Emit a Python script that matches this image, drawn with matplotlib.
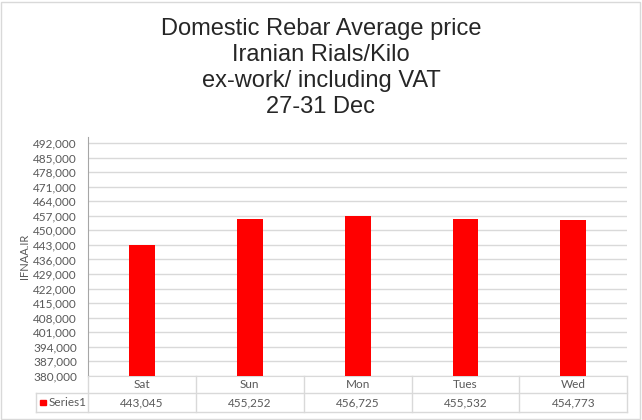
import matplotlib
matplotlib.use("Agg")
import matplotlib.pyplot as plt
import matplotlib.transforms as mtransforms
from matplotlib.patches import Rectangle

days = ["Sat", "Sun", "Mon", "Tues", "Wed"]
prices = [443045, 455252, 456725, 455532, 454773]
series_name = "Series1"
y_ticks = list(range(380000, 492001, 7000))

TITLE = "Domestic Rebar Average price\nIranian Rials/Kilo\nex-work/ including VAT\n27-31 Dec"
TEXT = "#595959"
GRID = "#d9d9d9"
BAR = "#ff0000"
LABEL_FONT = ["Lato", "DejaVu Sans"]

fig = plt.figure(figsize=(6.42, 4.2), dpi=100)
fig.patch.set_facecolor("white")
fig.patches.append(Rectangle((0.002, 0.003), 0.995, 0.993, transform=fig.transFigure,
                             fill=False, edgecolor=GRID, linewidth=1.0))

ax = fig.add_axes([0.137, 0.105, 0.840, 0.569])
x = list(range(len(days)))
ax.bar(x, prices, width=0.24, color=BAR, zorder=3)

ax.set_xlim(-0.5, len(days) - 0.5)
ax.set_ylim(380000, 494900)
ax.set_yticks(y_ticks)
ax.set_yticklabels([f"{v:,}" for v in y_ticks], fontsize=8.5, color=TEXT, family=LABEL_FONT)
ax.tick_params(axis="y", length=0, pad=8)
ax.set_xticks([])
ax.grid(True, axis="y", color=GRID, linewidth=1.0, zorder=0)
for s in ["top", "right"]:
    ax.spines[s].set_visible(False)
ax.spines["left"].set_color("#a6a6a6")
ax.spines["bottom"].set_color(GRID)

ax.set_ylabel("IFNAA.IR", fontsize=8, color=TEXT, family=LABEL_FONT, labelpad=2)

# data table under the axis
tr = mtransforms.blended_transform_factory(ax.transData, ax.transAxes)
row1, row2 = -0.071, -0.151
kw = dict(color=GRID, linewidth=1.0, clip_on=False)
for i in range(len(days) + 1):
    ax.plot([i - 0.5, i - 0.5], [0, row2], transform=tr, **kw)
for i, (d, p) in enumerate(zip(days, prices)):
    ax.text(i, row1 / 2, d, transform=tr, ha="center", va="center",
            fontsize=8.5, color=TEXT, family=LABEL_FONT)
    ax.text(i, (row1 + row2) / 2, f"{p:,}", transform=tr, ha="center", va="center",
            fontsize=8.5, color=TEXT, family=LABEL_FONT)

leg_left = -0.5 - 52 / 108
ax.plot([leg_left, len(days) - 0.5], [row1, row1], transform=tr, **kw)
ax.plot([leg_left, len(days) - 0.5], [row2, row2], transform=tr, **kw)
ax.plot([leg_left, leg_left], [row1, row2], transform=tr, **kw)
ax.add_patch(Rectangle((leg_left + 0.04, (row1 + row2) / 2 - 0.012), 0.055, 0.024,
                       transform=tr, color=BAR, clip_on=False))
ax.text(leg_left + 0.12, (row1 + row2) / 2, series_name, transform=tr, ha="left",
        va="center", fontsize=8.5, color=TEXT, family=LABEL_FONT)

fig.text(0.5, 0.956, TITLE, ha="center", va="top", fontsize=17, color="#262626",
         family=["Liberation Sans", "DejaVu Sans"], linespacing=1.22)

fig.savefig("out.png", dpi=100)
